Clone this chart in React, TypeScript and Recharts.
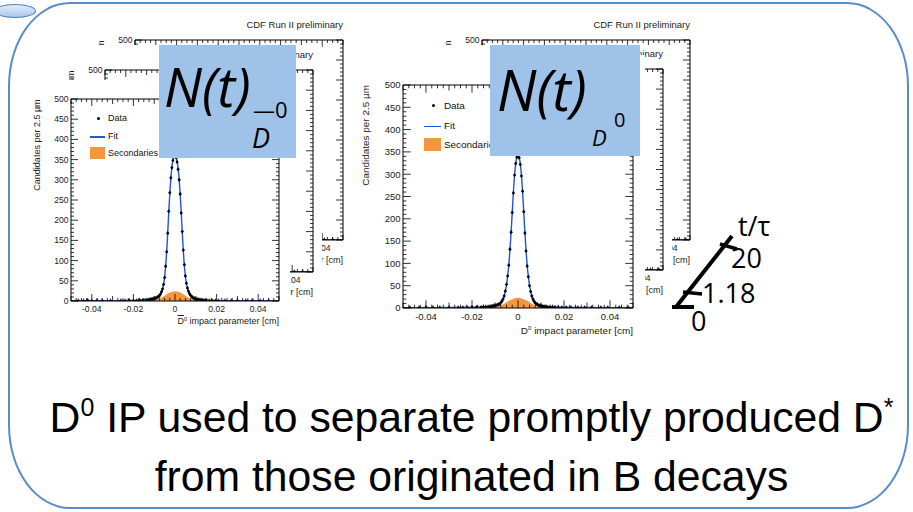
import React from 'react';
import { ComposedChart, Scatter, Line, Area, XAxis, YAxis } from 'recharts';

// D0bar impact parameter histogram (left), candidates per 2.5 um bin
const dbarPoints: [number, number][] = [
  [-0.0465, 1], [-0.044, 1], [-0.042, 2], [-0.04, 1], [-0.0375, 1], [-0.035, 1], [-0.031, 1],
  [-0.026, 1], [-0.024, 1], [-0.022, 2], [-0.02, 1], [-0.0185, 1], [-0.017, 2], [-0.0155, 2],
  [-0.014, 3], [-0.013, 3],
  [-0.012, 4], [-0.0115, 4], [-0.011, 5], [-0.0105, 5], [-0.01, 6], [-0.0095, 7], [-0.009, 8],
  [-0.0085, 9], [-0.008, 11], [-0.0075, 13], [-0.007, 17], [-0.0065, 23], [-0.006, 30],
  [-0.0055, 41], [-0.005, 58], [-0.0045, 86], [-0.004, 122], [-0.0035, 168], [-0.003, 222],
  [-0.0025, 268], [-0.002, 305], [-0.0015, 330], [-0.001, 348], [-0.0005, 358], [0, 362],
  [0.0005, 355], [0.001, 344], [0.0015, 326], [0.002, 300], [0.0025, 265], [0.003, 218],
  [0.0035, 172], [0.004, 126], [0.0045, 90], [0.005, 62], [0.0055, 44], [0.006, 32], [0.0065, 24],
  [0.007, 18], [0.0075, 14], [0.008, 11], [0.0085, 9], [0.009, 7], [0.0095, 6], [0.01, 5],
  [0.0105, 4], [0.011, 4], [0.0115, 3], [0.012, 3],
  [0.013, 3], [0.014, 2], [0.015, 2], [0.0165, 1], [0.018, 1], [0.0195, 1], [0.021, 1],
  [0.024, 1], [0.027, 1], [0.03, 1], [0.034, 1], [0.037, 1], [0.041, 1], [0.045, 1],
];
const dbarFit: [number, number][] = [
  [-0.05, 0.8], [-0.03, 1], [-0.02, 1.5], [-0.016, 2.2], [-0.012, 3.6], [-0.01, 5.2], [-0.008, 10],
  [-0.007, 16], [-0.006, 29], [-0.005, 58], [-0.0045, 86], [-0.004, 122], [-0.0035, 168],
  [-0.003, 220], [-0.0025, 266], [-0.002, 304], [-0.0015, 331], [-0.001, 349], [-0.0005, 359],
  [0, 362], [0.0005, 358], [0.001, 347], [0.0015, 328], [0.002, 301], [0.0025, 264], [0.003, 219],
  [0.0035, 170], [0.004, 124], [0.0045, 88], [0.005, 60], [0.006, 31], [0.007, 17], [0.008, 10.5],
  [0.01, 5.2], [0.012, 3.6], [0.016, 2.2], [0.02, 1.5], [0.03, 1], [0.05, 0.8],
];
const dbarSecondaries: [number, number][] = [
  [-0.012, 0], [-0.01, 1.5], [-0.008, 4], [-0.006, 10], [-0.004, 17], [-0.002, 22], [0, 24],
  [0.002, 22], [0.004, 17], [0.006, 10], [0.008, 4], [0.01, 1.5], [0.012, 0],
];

// D0 impact parameter histogram (right)
const d0Points: [number, number][] = [
  [-0.047, 1], [-0.043, 1], [-0.04, 2], [-0.037, 1], [-0.034, 1], [-0.03, 1], [-0.026, 1],
  [-0.024, 1], [-0.022, 1], [-0.02, 2], [-0.018, 2], [-0.016, 2], [-0.015, 3], [-0.014, 3],
  [-0.013, 3],
  [-0.012, 3], [-0.0115, 4], [-0.011, 4], [-0.0105, 5], [-0.01, 5], [-0.0095, 6], [-0.009, 7],
  [-0.0085, 8], [-0.008, 9], [-0.0075, 12], [-0.007, 15], [-0.0065, 20], [-0.006, 27],
  [-0.0055, 38], [-0.005, 53], [-0.0045, 72], [-0.004, 96], [-0.0035, 132], [-0.003, 170],
  [-0.0025, 214], [-0.002, 258], [-0.0015, 298], [-0.001, 324], [-0.0005, 338], [0, 342],
  [0.0005, 337], [0.001, 322], [0.0015, 296], [0.002, 262], [0.0025, 216], [0.003, 168],
  [0.0035, 128], [0.004, 94], [0.0045, 70], [0.005, 50], [0.0055, 37], [0.006, 27], [0.0065, 20],
  [0.007, 15], [0.0075, 11], [0.008, 9], [0.0085, 8], [0.009, 6], [0.0095, 5], [0.01, 5],
  [0.0105, 4], [0.011, 3], [0.0115, 3], [0.012, 3],
  [0.013, 2], [0.014, 3], [0.015, 2], [0.016, 2], [0.0175, 1], [0.019, 1], [0.021, 1], [0.023, 1],
  [0.026, 1], [0.029, 1], [0.032, 1], [0.036, 1], [0.039, 1], [0.044, 1], [0.048, 1],
];
const d0Fit: [number, number][] = [
  [-0.05, 0.8], [-0.03, 1], [-0.02, 1.6], [-0.016, 2.3], [-0.012, 3.4], [-0.01, 5], [-0.008, 9.5],
  [-0.007, 15], [-0.006, 27], [-0.005, 52], [-0.0045, 72], [-0.004, 96], [-0.0035, 131],
  [-0.003, 170], [-0.0025, 215], [-0.002, 260], [-0.0015, 297], [-0.001, 323], [-0.0005, 338],
  [0, 342], [0.0005, 338], [0.001, 323], [0.0015, 297], [0.002, 260], [0.0025, 215], [0.003, 169],
  [0.0035, 130], [0.004, 95], [0.0045, 71], [0.005, 51], [0.006, 27], [0.007, 15], [0.008, 9.5],
  [0.01, 5], [0.012, 3.4], [0.016, 2.3], [0.02, 1.6], [0.03, 1], [0.05, 0.8],
];
const d0Secondaries: [number, number][] = [
  [-0.012, 0], [-0.01, 1.2], [-0.008, 4], [-0.006, 9.5], [-0.004, 16], [-0.002, 21], [0, 23],
  [0.002, 21], [0.004, 16], [0.006, 9.5], [0.008, 4], [0.01, 1.2], [0.012, 0],
];

const xLabels = [-0.04, -0.02, 0, 0.02, 0.04];
const yLabels = [0, 50, 100, 150, 200, 250, 300, 350, 400, 450, 500];

const xTicks: number[] = [];
for (let i = -20; i <= 20; i++) xTicks.push(i * 0.0025);
const yTicks: number[] = [];
for (let i = 0; i <= 50; i++) yTicks.push(i * 10);

const near = (a: number, b: number) => Math.abs(a - b) < 1e-9;
const toRows = (arr: [number, number][]) => arr.map(([x, y]) => ({ x, y }));

const FONT = '"Liberation Sans", Arial, sans-serif';
const BLUE = '#2252e0';
const ORANGE = '#f8963c';

const AxisTick = (props: any) => {
  const { x, y, payload, side, s } = props;
  const v = payload.value;
  const fs = 8.6 * s;
  if (side === 'bottom' || side === 'top') {
    const lab = xLabels.some((l) => near(l, v));
    const mid = near(Math.round(v / 0.01) * 0.01, v);
    const len = (lab ? 7 : mid ? 5 : 3) * s;
    const dir = side === 'bottom' ? -1 : 1;
    return (
      <g>
        <line x1={x} y1={y} x2={x} y2={y + dir * len} stroke="#000" strokeWidth={0.8} />
        {side === 'bottom' && lab && (
          <text x={x} y={y + fs + 2} fontSize={fs} textAnchor="middle" fill="#222" fontFamily={FONT}>
            {near(v, 0) ? '0' : v.toFixed(2)}
          </text>
        )}
      </g>
    );
  }
  const lab = yLabels.some((l) => near(l, v));
  const len = (lab ? 7 : 3) * s;
  const dir = side === 'left' ? 1 : -1;
  return (
    <g>
      <line x1={x} y1={y} x2={x + dir * len} y2={y} stroke="#000" strokeWidth={0.8} />
      {side === 'left' && lab && (
        <text x={x - 2.5} y={y} dy="0.35em" fontSize={fs} textAnchor="end" fill="#222" fontFamily={FONT}>
          {v}
        </text>
      )}
    </g>
  );
};

const DataPoint = (props: any) => {
  const { cx, cy } = props;
  if (cx == null || cy == null) return null;
  return (
    <g>
      <line x1={cx - 1.5} y1={cy} x2={cx + 1.5} y2={cy} stroke="#000" strokeWidth={0.8} />
      <line x1={cx} y1={cy - 2} x2={cx} y2={cy + 2} stroke="#000" strokeWidth={0.8} />
      <circle cx={cx} cy={cy} r={1.2} fill="#000" />
    </g>
  );
};

type Box = { l: number; t: number; r: number; b: number };

const RootCanvas = ({ canvas, plot, points, fit, sec, bar, front }: {
  canvas: Box; plot: Box; points: [number, number][]; fit: [number, number][];
  sec: [number, number][]; bar: boolean; front: boolean;
}) => {
  const cw = canvas.r - canvas.l;
  const ch = canvas.b - canvas.t;
  const pw = plot.r - plot.l;
  const ph = plot.b - plot.t;
  const s = pw / 208;
  const px = plot.l - canvas.l;
  const py = plot.t - canvas.t;
  const fs = 9 * s;
  return (
    <div style={{ position: 'absolute', left: canvas.l, top: canvas.t, width: cw, height: ch, background: '#fff', fontFamily: FONT }}>
      <ComposedChart
        width={cw}
        height={ch}
        margin={{ top: py - 1, right: canvas.r - plot.r - 1, bottom: canvas.b - plot.b - 30, left: 0 }}
      >
        <XAxis xAxisId="b" type="number" dataKey="x" domain={[-0.05, 0.05]} allowDataOverflow ticks={xTicks} interval={0}
          height={30} tickSize={0} tickMargin={0} stroke="#000" tick={<AxisTick side="bottom" s={s} />} />
        <XAxis xAxisId="t" orientation="top" type="number" dataKey="x" domain={[-0.05, 0.05]} allowDataOverflow ticks={xTicks}
          interval={0} height={1} tickSize={0} tickMargin={0} stroke="#000" tick={<AxisTick side="top" s={s} />} />
        <YAxis yAxisId="l" type="number" domain={[0, 500]} allowDataOverflow ticks={yTicks} interval={0} width={px}
          tickSize={0} tickMargin={0} stroke="#000" tick={<AxisTick side="left" s={s} />} />
        <YAxis yAxisId="r" orientation="right" type="number" domain={[0, 500]} allowDataOverflow ticks={yTicks} interval={0}
          width={1} tickSize={0} tickMargin={0} stroke="#000" tick={<AxisTick side="right" s={s} />} />
        <Area xAxisId="b" yAxisId="l" data={toRows(sec)} dataKey="y" type="monotone" stroke="none" fill={ORANGE} fillOpacity={1} isAnimationActive={false} />
        <Line xAxisId="b" yAxisId="l" data={toRows(fit)} dataKey="y" type="monotone" stroke={BLUE} strokeWidth={1.4} dot={false} isAnimationActive={false} />
        <Scatter xAxisId="b" yAxisId="l" data={toRows(points)} dataKey="y" shape={<DataPoint />} isAnimationActive={false} />
      </ComposedChart>

      {!front && (
        <div style={{ position: 'absolute', right: canvas.r - plot.r, top: py - 21 * s, fontSize: 9.5 * s, color: '#222', whiteSpace: 'nowrap' }}>
          CDF Run II preliminary
        </div>
      )}
      <div style={{ position: 'absolute', left: px - 34 * s, top: py, width: 0, height: 0 }}>
        <div style={{ position: 'absolute', right: 0, top: -fs * 0.6, transformOrigin: '100% 50%', transform: 'rotate(-90deg)', fontSize: fs, color: '#222', whiteSpace: 'nowrap', lineHeight: `${fs * 1.2}px` }}>
          Candidates per 2.5 µm
        </div>
      </div>
      <div style={{ position: 'absolute', right: canvas.r - plot.r, top: py + ph + 16 * s, fontSize: fs, color: '#222', whiteSpace: 'nowrap', lineHeight: 1 }}>
        <span style={{ textDecoration: bar ? 'overline' : 'none' }}>D</span>
        <span style={{ fontSize: '0.6em', position: 'relative', top: '-0.6em' }}>0</span> impact parameter [cm]
      </div>

      {front && (
        <div style={{ position: 'absolute', left: px, top: py, fontSize: fs, color: '#111' }}>
          <div style={{ position: 'absolute', left: 26 * s, top: 17.5 * s, width: 3, height: 3, borderRadius: 2, background: '#000' }} />
          <div style={{ position: 'absolute', left: 37 * s, top: 19 * s - fs * 0.6, whiteSpace: 'nowrap' }}>Data</div>
          <div style={{ position: 'absolute', left: 19 * s, top: 37 * s, width: 15 * s, height: 1.5, background: BLUE }} />
          <div style={{ position: 'absolute', left: 37 * s, top: 37 * s - fs * 0.6, whiteSpace: 'nowrap' }}>Fit</div>
          <div style={{ position: 'absolute', left: 19 * s, top: 48 * s, width: 15 * s, height: 12 * s, background: ORANGE }} />
          <div style={{ position: 'absolute', left: 37 * s, top: 54 * s - fs * 0.6, whiteSpace: 'nowrap' }}>Secondaries</div>
        </div>
      )}
    </div>
  );
};

const App = () => {
  const nFont = '"Open Sans", "Noto Sans", sans-serif';
  return (
    <div style={{ position: 'absolute', left: 0, top: 0, width: 913, height: 512, background: '#fff', overflow: 'hidden', fontFamily: FONT }}>
      <div style={{ position: 'absolute', left: 8, top: 2, width: 897, height: 503, border: '2.5px solid #5a8ccc', borderRadius: '62px / 84px' }} />
      <div style={{ position: 'absolute', left: -6, top: 4, width: 40, height: 12, borderRadius: '50%', border: '1px solid #4a7fc0', background: 'linear-gradient(#e4eefb, #a9c6ec)' }} />

      {/* D0bar plots, back to front */}
      <RootCanvas canvas={{ l: 85, t: 12, r: 352, b: 285 }} plot={{ l: 135, t: 40, r: 343, b: 240 }} points={dbarPoints} fit={dbarFit} sec={dbarSecondaries} bar front={false} />
      <RootCanvas canvas={{ l: 55, t: 45, r: 322, b: 315 }} plot={{ l: 105, t: 70, r: 313, b: 272 }} points={dbarPoints} fit={dbarFit} sec={dbarSecondaries} bar front={false} />
      <RootCanvas canvas={{ l: 25, t: 80, r: 290, b: 340 }} plot={{ l: 71, t: 99, r: 279, b: 301 }} points={dbarPoints} fit={dbarFit} sec={dbarSecondaries} bar front />

      {/* D0 plots */}
      <RootCanvas canvas={{ l: 435, t: 12, r: 700, b: 285 }} plot={{ l: 482, t: 40, r: 690, b: 240 }} points={d0Points} fit={d0Fit} sec={d0Secondaries} bar={false} front={false} />
      <RootCanvas canvas={{ l: 405, t: 45, r: 672, b: 315 }} plot={{ l: 455, t: 69, r: 663, b: 270 }} points={d0Points} fit={d0Fit} sec={d0Secondaries} bar={false} front={false} />
      <RootCanvas canvas={{ l: 355, t: 55, r: 645, b: 345 }} plot={{ l: 403, t: 85, r: 633, b: 308 }} points={d0Points} fit={d0Fit} sec={d0Secondaries} bar={false} front />

      {/* N(t) overlays */}
      <div style={{ position: 'absolute', left: 159, top: 45, width: 137, height: 113, background: '#9fc2e9', fontFamily: nFont, fontStyle: 'italic', color: '#000' }}>
        <div style={{ position: 'absolute', left: 5, top: 8, fontSize: 54, lineHeight: '66px' }}>N(t)</div>
        <div style={{ position: 'absolute', left: 94, top: 52, fontSize: 22, lineHeight: '24px', fontStyle: 'normal' }}>—0</div>
        <div style={{ position: 'absolute', left: 93, top: 78, fontSize: 27, lineHeight: '30px' }}>D</div>
      </div>
      <div style={{ position: 'absolute', left: 490, top: 45, width: 150, height: 111, background: '#9fc2e9', fontFamily: nFont, fontStyle: 'italic', color: '#000' }}>
        <div style={{ position: 'absolute', left: 7, top: 10, fontSize: 56, lineHeight: '68px' }}>N(t)</div>
        <div style={{ position: 'absolute', left: 102, top: 80, fontSize: 22, lineHeight: '24px' }}>D</div>
        <div style={{ position: 'absolute', left: 124, top: 64, fontSize: 20, lineHeight: '22px', fontStyle: 'normal' }}>0</div>
      </div>

      {/* t/tau scale sketch */}
      <svg width={913} height={512} style={{ position: 'absolute', left: 0, top: 0 }}>
        <line x1={676} y1={307} x2={732} y2={236} stroke="#000" strokeWidth={4} />
        <line x1={672} y1={307} x2={694} y2={307} stroke="#000" strokeWidth={4} />
        <line x1={683} y1={292} x2={702} y2={294} stroke="#000" strokeWidth={3.5} />
        <line x1={720} y1={244} x2={737} y2={249} stroke="#000" strokeWidth={3.5} />
        <g fontFamily='"Open Sans", sans-serif' fontSize={27} fill="#000">
          <text x={738} y={236}>t/τ</text>
          <text x={731} y={268}>20</text>
          <text x={702} y={303}>1.18</text>
          <text x={691} y={331}>0</text>
        </g>
      </svg>

      <div style={{ position: 'absolute', left: 30, width: 883, top: 393, textAlign: 'center', fontSize: 42.7, lineHeight: '48px', color: '#000', whiteSpace: 'nowrap' }}>
        D<span style={{ fontSize: 25, position: 'relative', top: -16 }}>0</span> IP used to separate promptly produced D<span style={{ fontSize: 25, position: 'relative', top: -16 }}>*</span>
      </div>
      <div style={{ position: 'absolute', left: 30, width: 883, top: 452, textAlign: 'center', fontSize: 42.7, lineHeight: '48px', color: '#000', whiteSpace: 'nowrap' }}>
        from those originated in B decays
      </div>
    </div>
  );
};

export default App;
